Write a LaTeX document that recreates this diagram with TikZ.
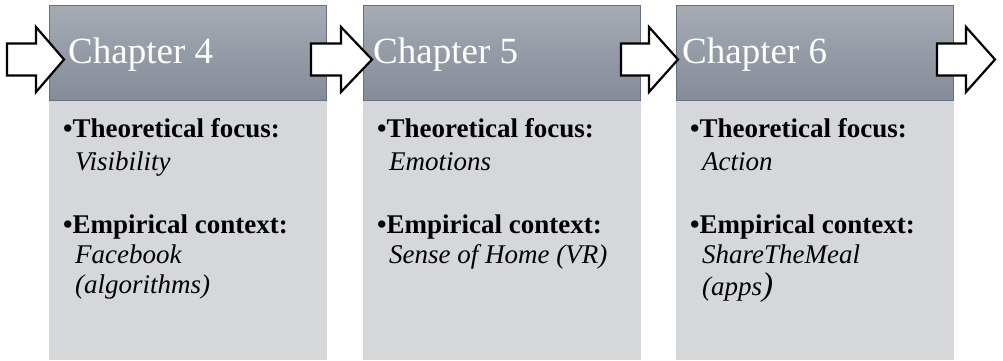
\documentclass[tikz,border=0pt]{standalone}
\usepackage{fontspec}
\setmainfont{Liberation Serif}
\definecolor{headtop}{RGB}{166,171,180}
\definecolor{headbot}{RGB}{133,140,152}
\definecolor{headline}{RGB}{100,112,132}
\definecolor{bodyfill}{RGB}{214,215,218}
\tikzset{
  headbox/.style={draw=headline, line width=0.8pt, top color=headtop, bottom color=headbot,
    minimum width=277pt, minimum height=95pt, inner sep=0pt, outer sep=0pt, anchor=north west},
  bodybox/.style={fill=bodyfill, minimum width=278pt, minimum height=260pt, inner sep=0pt, outer sep=0pt, anchor=north west},
  headtext/.style={text=white, font=\fontsize{37}{37}\selectfont, anchor=base west, inner sep=0pt},
  boldline/.style={font=\bfseries\fontsize{27}{27}\selectfont, anchor=base west, inner sep=0pt},
  italline/.style={font=\itshape\fontsize{27}{27}\selectfont, anchor=base west, inner sep=0pt},
  flowarrow/.style={draw=black, fill=white, line width=2.2pt, line join=miter},
}
\newcommand\flowarr[3]{% tail x, head base x, tip x
  \draw[flowarrow] (#1,43.5) -- (#2,43.5) -- (#2,27) -- (#3,59.5) -- (#2,92) -- (#2,75.5) -- (#1,75.5) -- cycle;}
\begin{document}
\begin{tikzpicture}[x=1pt,y=-1pt]
\useasboundingbox (0,0) rectangle (1003,360);
% bodies
\node[bodybox] (b1) at (49,100) {};
\node[bodybox] (b2) at (363,100) {};
\node[bodybox] (b3) at (676,100) {};
% headers
\node[headbox] (h1) at (49,5) {};
\node[headbox] (h2) at (363,5) {};
\node[headbox] (h3) at (676,5) {};
\node[headtext] (t1) at (68,63) {Chapter 4};
\node[headtext] (t2) at (373,63) {Chapter 5};
\node[headtext] (t3) at (682,63) {Chapter 6};
% arrows
\flowarr{7}{36}{64}
\flowarr{311}{341}{372}
\flowarr{621}{649}{678}
\flowarr{937}{966}{995}
% body texts
\node[boldline] (f1) at (63,137) {•Theoretical focus:};
\node[italline] (v1) at (75,170) {Visibility};
\node[boldline] (e1) at (63,233) {•Empirical context:};
\node[italline] (c1a) at (75,263) {Facebook};
\node[italline] (c1b) at (75,293) {(algorithms)};
\node[boldline] (f2) at (377,137) {•Theoretical focus:};
\node[italline] (v2) at (389,170) {Emotions};
\node[boldline] (e2) at (377,233) {•Empirical context:};
\node[italline] (c2a) at (389,263) {Sense of Home (VR)};
\node[boldline] (f3) at (690,137) {•Theoretical focus:};
\node[italline] (v3) at (702,170) {Action};
\node[boldline] (e3) at (690,233) {•Empirical context:};
\node[italline] (c3a) at (702,263) {ShareTheMeal};
\node[italline] (c3b) at (702,295) {(apps{\fontsize{33}{33}\selectfont )}};
\end{tikzpicture}
\end{document}
